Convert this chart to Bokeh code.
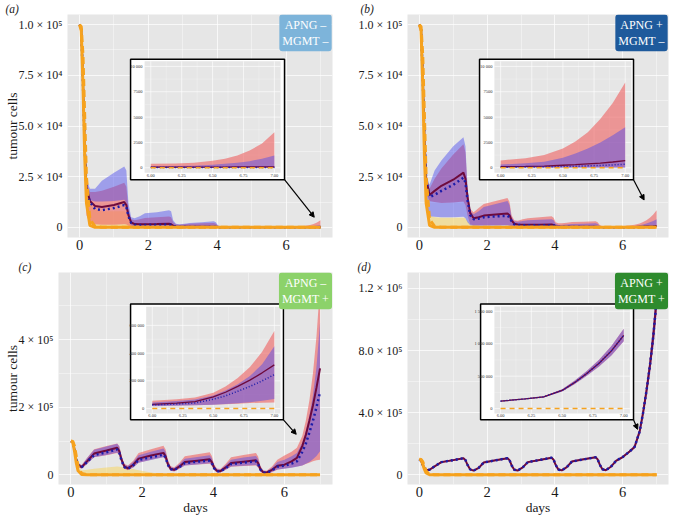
import numpy as np
from bokeh.plotting import figure
from bokeh.layouts import row, column
from bokeh.models import Range1d, FixedTicker, Label, Arrow, NormalHead
from bokeh.core.properties import value
from bokeh.embed import file_html
from bokeh.resources import INLINE

# ---------------- data (values in thousands of tumour cells) ----------------
DAYS = [0.0, 0.05, 0.1, 0.15, 0.2, 0.3, 0.45, 0.65, 1.0, 1.3,
        1.36, 1.42, 1.5, 1.6, 1.75, 1.9, 2.25, 2.6, 2.66, 2.72,
        2.8, 2.9, 3.05, 3.2, 3.55, 3.9, 3.96, 4.02, 4.1, 4.2,
        4.35, 4.5, 4.85, 5.2, 5.26, 5.32, 5.4, 5.5, 5.65, 5.8,
        6.0, 6.2, 6.35, 6.5, 6.6, 6.7, 6.8, 6.9, 7.0]

ORANGE_SOLID_K = [100, 97, 70, 35, 12, 1, 0, 0, 0, 0,
                  0, 0, 0, 0, 0, 0, 0, 0, 0, 0,
                  0, 0, 0, 0, 0, 0, 0, 0, 0, 0,
                  0, 0, 0, 0, 0, 0, 0, 0, 0, 0,
                  0, 0, 0, 0, 0, 0, 0, 0, 0]
ORANGE_DASH_K = [100, 99, 85, 55, 25, 4, 0.5, 0.1, 0, 0,
                 0, 0, 0, 0, 0, 0, 0, 0, 0, 0,
                 0, 0, 0, 0, 0, 0, 0, 0, 0, 0,
                 0, 0, 0, 0, 0, 0, 0, 0, 0, 0,
                 0, 0, 0, 0, 0, 0, 0, 0, 0]
YEL_LO_K = [100, 97, 74, 40, 10, 0, 0, 0, 0, 0,
            0, 0, 0, 0, 0, 0, 0, 0, 0, 0,
            0, 0, 0, 0, 0, 0, 0, 0, 0, 0,
            0, 0, 0, 0, 0, 0, 0, 0, 0, 0,
            0, 0, 0, 0, 0, 0, 0, 0, 0]

# panel (a) APNG - / MGMT -
A_RED_K = [100, 98, 72, 40, 20, 13, 10.5, 10, 11, 12.5,
           11, 6, 2.5, 1.6, 1.5, 1.5, 1.6, 1.8, 1.5, 0.8,
           0.4, 0.3, 0.3, 0.3, 0.3, 0.3, 0.25, 0.15, 0.1, 0.1,
           0.1, 0.1, 0.1, 0.08, 0.08, 0.07, 0.06, 0.06, 0.06, 0.06,
           0.06, 0.06, 0.06, 0.07, 0.07, 0.08, 0.08, 0.09, 0.09]
A_BLUE_K = [100, 98, 71, 39, 19, 12.5, 9, 8.5, 9.5, 11,
            10, 5.5, 2.2, 1.3, 1.2, 1.2, 1.3, 1.4, 1.2, 0.6,
            0.3, 0.2, 0.2, 0.2, 0.2, 0.2, 0.15, 0.1, 0.05, 0.05,
            0.05, 0.05, 0.05, 0.05, 0.05, 0.05, 0.05, 0.05, 0.05, 0.05,
            0.03, 0.03, 0.03, 0.03, 0.03, 0.03, 0.03, 0.03, 0.03]
A_RED_LO_K = [100, 96, 65, 25, 6, 2, 1.5, 1.3, 1.3, 1.5,
              1.4, 0.8, 0.3, 0.2, 0.2, 0.2, 0.2, 0.2, 0.15, 0.1,
              0.05, 0, 0, 0, 0, 0, 0, 0, 0, 0,
              0, 0, 0, 0, 0, 0, 0, 0, 0, 0,
              0, 0, 0, 0, 0, 0, 0, 0, 0]
A_RED_HI_K = [100, 98, 76, 42, 22, 17.5, 17.5, 18, 20, 22,
              20, 9, 4, 3.5, 4, 4.6, 5, 5.4, 5, 2.5,
              1.5, 1.3, 1.5, 1.8, 2, 2.2, 1.8, 0.8, 0.4, 0.35,
              0.35, 0.35, 0.35, 0.35, 0.35, 0.35, 0.35, 0.35, 0.35, 0.38,
              0.4, 0.43, 0.5, 0.7, 0.9, 1.2, 1.7, 2.4, 3.5]
A_BLUE_LO_K = [100, 97, 70, 35, 16, 13.5, 12.8, 12.8, 13, 13.6,
               12, 5, 1, 0.5, 0.4, 0.4, 0.4, 0.5, 0.4, 0.2,
               0.1, 0.05, 0.05, 0.05, 0.05, 0.05, 0.05, 0, 0, 0,
               0, 0, 0, 0, 0, 0, 0, 0, 0, 0,
               0, 0, 0, 0, 0, 0, 0, 0, 0]
A_BLUE_HI_K = [100, 99, 80, 45, 24, 19, 19, 23, 27, 30,
               28, 12, 5, 4.5, 5.5, 7, 7.5, 8.5, 8, 3.5,
               1.8, 1.5, 1.8, 2.2, 2.5, 3, 2.5, 1, 0.4, 0.3,
               0.3, 0.3, 0.3, 0.3, 0.25, 0.2, 0.2, 0.2, 0.2, 0.18,
               0.15, 0.17, 0.2, 0.3, 0.4, 0.5, 0.65, 0.9, 1.2]
A_YEL_HI_K = [100, 99, 82, 48, 16, 11, 9, 8, 8, 8,
              7, 5, 3, 2, 1.5, 1, 0.5, 0.2, 0, 0,
              0, 0, 0, 0, 0, 0, 0, 0, 0, 0,
              0, 0, 0, 0, 0, 0, 0, 0, 0, 0,
              0, 0, 0, 0, 0, 0, 0, 0, 0]

# panel (b) APNG + / MGMT -
B_RED_K = [100, 98, 75, 45, 24, 16, 18, 20.5, 23.5, 27,
           24, 15, 7, 4.5, 5, 5.8, 6.3, 6.8, 6, 3.5,
           1.8, 1.4, 1.3, 1.3, 1.3, 1.4, 1.2, 0.6, 0.3, 0.25,
           0.25, 0.25, 0.25, 0.25, 0.2, 0.15, 0.1, 0.1, 0.1, 0.1,
           0.1, 0.13, 0.17, 0.25, 0.3, 0.38, 0.45, 0.57, 0.7]
B_BLUE_K = [100, 98, 74, 44, 23, 15, 16, 18, 21, 24.5,
            22, 13.5, 6, 4, 4.3, 5, 5.4, 5.7, 5, 3,
            1.5, 1.2, 1.1, 1.1, 1.1, 1.1, 1, 0.5, 0.2, 0.15,
            0.15, 0.15, 0.15, 0.15, 0.12, 0.1, 0.06, 0.05, 0.05, 0.05,
            0.05, 0.07, 0.09, 0.12, 0.15, 0.19, 0.23, 0.28, 0.35]
B_RED_LO_K = [100, 96, 70, 38, 17, 13, 12.5, 12, 12.3, 12.7,
              11, 6, 1.5, 1, 1, 1.1, 1.2, 1.2, 1, 0.5,
              0.2, 0.1, 0.1, 0.1, 0.1, 0.1, 0.1, 0.05, 0.05, 0.05,
              0.05, 0.05, 0.05, 0.05, 0.05, 0.05, 0.05, 0.05, 0.05, 0.05,
              0.05, 0.05, 0.05, 0.05, 0.05, 0.05, 0.05, 0.05, 0.05]
B_RED_HI_K = [100, 98, 78, 46, 25, 19, 24, 29, 36, 41,
              37, 19, 9, 7.5, 9.5, 11.5, 13, 14.5, 12.5, 6,
              3.5, 3.3, 4, 4.5, 5, 5.5, 4.8, 2.5, 2, 2,
              2.3, 2.6, 2.8, 3, 2.5, 1.2, 0.6, 0.6, 0.62, 0.65,
              0.72, 0.95, 1.25, 1.9, 2.6, 3.5, 4.8, 6.4, 8.4]
B_BLUE_LO_K = [100, 96, 68, 30, 10, 5.5, 5.2, 5, 5, 5.2,
               4.5, 2.5, 1, 0.8, 0.8, 0.8, 0.85, 0.9, 0.7, 0.4,
               0.2, 0.1, 0, 0, 0, 0, 0, 0, 0, 0,
               0, 0, 0, 0, 0, 0, 0, 0, 0, 0,
               0, 0, 0, 0, 0, 0, 0, 0, 0]
B_BLUE_HI_K = [100, 99, 80, 48, 26, 21, 28, 33, 40, 44.5,
               40, 20, 8, 6.5, 8, 10, 11.5, 13, 11, 5,
               3, 2.8, 3.2, 3.5, 3.8, 4, 3.5, 1.8, 1.2, 1.2,
               1.4, 1.6, 1.8, 2, 1.6, 0.8, 0.3, 0.25, 0.25, 0.28,
               0.32, 0.45, 0.6, 1, 1.4, 1.9, 2.5, 3.2, 4]
B_YEL_HI_K = [100, 99, 82, 48, 16, 6, 5, 4.8, 4.7, 4.8,
              4.5, 3, 1.5, 1, 0.8, 0.6, 0.4, 0.2, 0, 0,
              0, 0, 0, 0, 0, 0, 0, 0, 0, 0,
              0, 0, 0, 0, 0, 0, 0, 0, 0, 0,
              0, 0, 0, 0, 0, 0, 0, 0, 0]

# panel (c) APNG - / MGMT +
C_RED_K = [100, 98, 75, 45, 30, 23, 40, 63, 72, 80,
           70, 45, 25, 19, 30, 48, 57, 65, 55, 33,
           18, 15, 25, 38, 42, 46, 38, 22, 12, 11,
           22, 35, 39, 43, 35, 18, 8, 7, 15, 27,
           30, 40, 50, 85, 118, 160, 205, 258, 315]
C_BLUE_K = [100, 97, 74, 44, 29, 22, 38, 58, 67, 75,
            66, 42, 23, 18, 28, 44, 52, 60, 51, 30,
            17, 14, 23, 35, 39, 42, 35, 20, 11, 10,
            20, 32, 36, 40, 32, 16, 7, 6, 13, 24,
            27, 33, 40, 68, 92, 125, 160, 200, 245]
C_RED_LO_K = [100, 96, 70, 38, 24, 18, 32, 52, 58, 65,
              57, 36, 18, 14, 22, 36, 45, 53, 45, 25,
              12, 10, 18, 28, 31, 33, 27, 15, 7, 7,
              15, 24, 26, 28, 22, 10, 4, 3, 8, 15,
              19, 22, 25, 28, 32, 36, 40, 43, 45]
C_RED_HI_K = [100, 99, 80, 52, 36, 29, 50, 76, 85, 93,
              85, 58, 33, 28, 42, 65, 76, 86, 75, 46,
              26, 22, 36, 55, 61, 67, 56, 32, 19, 17,
              33, 52, 59, 65, 54, 28, 14, 12, 25, 45,
              57, 68, 80, 115, 160, 220, 300, 410, 560]
C_BLUE_LO_K = [100, 96, 70, 38, 24, 18, 32, 52, 59, 66,
               58, 37, 19, 15, 22, 36, 44, 52, 44, 25,
               13, 11, 19, 28, 31, 34, 28, 15, 8, 7,
               15, 25, 27, 29, 23, 11, 4, 3, 9, 16,
               18, 21, 24, 28, 33, 38, 46, 56, 70]
C_BLUE_HI_K = [100, 98, 79, 50, 35, 28, 49, 74, 84, 92,
               83, 55, 31, 26, 38, 58, 68, 78, 68, 42,
               23, 20, 32, 48, 53, 58, 49, 28, 17, 15,
               29, 45, 51, 56, 47, 25, 12, 10, 21, 38,
               45, 55, 65, 95, 130, 175, 235, 320, 450]
C_YEL_HI_K = [100, 99, 82, 50, 25, 13, 15, 18, 22, 25,
              24, 23, 22, 20, 17, 14, 7, 1, 0.5, 0,
              0, 0, 0, 0, 0, 0, 0, 0, 0, 0,
              0, 0, 0, 0, 0, 0, 0, 0, 0, 0,
              0, 0, 0, 0, 0, 0, 0, 0, 0]

# panel (d) APNG + / MGMT +  (both model means coincide)
D_RED_K = [100, 90, 65, 42, 31, 33, 55, 82, 95, 107,
           95, 65, 35, 27, 45, 80, 94, 107, 95, 62,
           33, 28, 48, 82, 96, 110, 98, 65, 35, 29,
           50, 86, 100, 113, 100, 67, 36, 30, 52, 90,
           115, 150, 180, 280, 400, 540, 700, 890, 1130]
D_BLUE_K = D_RED_K
D_LO_K = [100, 88, 62, 39, 28, 30, 51, 77, 90, 102,
          90, 61, 32, 24, 41, 75, 89, 102, 90, 58,
          30, 25, 44, 77, 91, 105, 93, 61, 32, 26,
          46, 81, 95, 108, 95, 63, 33, 27, 48, 85,
          109, 143, 171, 262, 375, 505, 650, 820, 1040]
D_HI_K = [100, 92, 68, 45, 34, 36, 59, 87, 100, 112,
          100, 69, 38, 30, 49, 85, 99, 112, 100, 66,
          36, 31, 52, 87, 101, 115, 103, 69, 38, 32,
          54, 91, 105, 118, 105, 71, 39, 33, 56, 95,
          121, 157, 189, 300, 428, 578, 755, 965, 1230]
D_YEL_HI_K = [100, 99, 80, 45, 15, 4, 3, 3, 3, 3,
              2.5, 2, 1, 0.5, 0, 0, 0, 0, 0, 0,
              0, 0, 0, 0, 0, 0, 0, 0, 0, 0,
              0, 0, 0, 0, 0, 0, 0, 0, 0, 0,
              0, 0, 0, 0, 0, 0, 0, 0, 0]

# axis ticks
X_TICKS = [0, 2, 4, 6]
AB_Y_TICKS = [0, 25000, 50000, 75000, 100000]
AB_Y_LABELS = ["0", "2.5 × 10⁴", "5.0 × 10⁴", "7.5 × 10⁴", "1.0 × 10⁵"]
C_Y_TICKS = [0, 200000, 400000]
C_Y_LABELS = ["0", "2 × 10⁵", "4 × 10⁵"]
D_Y_TICKS = [0, 400000, 800000, 1200000]
D_Y_LABELS = ["0", "4.0 × 10⁵", "8.0 × 10⁵", "1.2 × 10⁶"]

INSET_X_TICKS = [6.0, 6.25, 6.5, 6.75, 7.0]
INSET_X_LABELS = ["6.00", "6.25", "6.50", "6.75", "7.00"]
AB_INSET_Y_TICKS = [0, 2500, 5000, 7500, 10000]
AB_INSET_Y_LABELS = ["0", "2500", "5000", "7500", "10 000"]
C_INSET_Y_TICKS = [0, 200000, 400000, 600000]
C_INSET_Y_LABELS = ["0", "200 000", "400 000", "600 000"]
D_INSET_Y_TICKS = [0, 500000, 1000000, 1500000]
D_INSET_Y_LABELS = ["0", "500 000", "1 000 000", "1 500 000"]

# ---------------- styles ----------------
BG = "#E6E6E6"
PINK = "#EE6A6A"
BLUE = "#4646F0"
YELLOW = "#F7D358"
MAROON = "#6E0A3C"
NAVY = "#1C1CA8"
ORANGE = "#F6A21E"
SERIF = "Liberation Serif"
K = 1000.0


def k(a):
    return np.asarray(a, dtype=float) * K


def inset_ranges(frac, lims):
    fl, fr, fb, ft = frac
    x0, x1, y0, y1 = lims
    sx = (x1 - x0) / (fr - fl)
    sy = (y1 - y0) / (ft - fb)
    X0 = x0 - fl * sx
    Y0 = y0 - fb * sy
    return X0, sx, Y0, sy


def make_panel(spec):
    ylo, yhi = spec["ylim"]
    p = figure(width=spec["w"], height=spec["h"],
               x_range=Range1d(-0.35, 7.35), y_range=Range1d(ylo, yhi),
               output_backend="svg", toolbar_location=None,
               background_fill_color=BG, border_fill_color="white",
               outline_line_color=None,
               min_border_left=spec["mb"][0], min_border_right=spec["mb"][1],
               min_border_top=spec["mb"][2], min_border_bottom=spec["mb"][3])

    # panel letter as title
    p.title.text = spec["letter"]
    p.title.text_font = SERIF
    p.title.text_font_size = "11.5px"
    p.title.text_font_style = "italic"
    p.title.text_color = "#1a1a1a"
    p.title.align = "left"
    p.title.offset = spec["letdx"]
    p.title.standoff = 0

    # axes
    p.xaxis.ticker = FixedTicker(ticks=X_TICKS, minor_ticks=[1, 3, 5, 7])
    yt = spec["yticks"]
    p.yaxis.ticker = FixedTicker(ticks=yt, minor_ticks=[(a + b) / 2 for a, b in zip(yt[:-1], yt[1:])] + [yt[-1] + (yt[1] - yt[0]) / 2])
    p.yaxis.major_label_overrides = {t: l for t, l in zip(yt, spec["ylabels"])}
    for ax in (p.xaxis[0], p.yaxis[0]):
        ax.axis_line_color = None
        ax.major_tick_line_color = None
        ax.minor_tick_line_color = None
        ax.major_tick_out = 0
        ax.major_tick_in = 0
        ax.minor_tick_out = 0
        ax.minor_tick_in = 0
        ax.major_label_text_font = SERIF
        ax.major_label_text_color = "#1a1a1a"
        ax.major_label_text_line_height = 1.0
        ax.axis_label_text_font = SERIF
        ax.axis_label_text_font_size = "13.5px"
        ax.axis_label_text_font_style = "normal"
        ax.axis_label_text_color = "#1a1a1a"
        ax.axis_label_text_line_height = 1.0
        ax.axis_label_standoff = 0
    p.xaxis.major_label_text_font_size = "14.5px"
    p.xaxis.major_label_standoff = 2
    p.yaxis.major_label_text_font_size = "12px"
    p.yaxis.major_label_standoff = 5
    if spec.get("ylab"):
        p.yaxis.axis_label = "tumour cells"
        p.yaxis.axis_label_standoff = -4
    if spec.get("xlab"):
        p.xaxis.axis_label = "days"
    p.grid.grid_line_color = "white"
    p.grid.grid_line_alpha = 0.7
    p.grid.minor_grid_line_color = "white"
    p.grid.minor_grid_line_alpha = 0.4

    d = spec["data"]
    x = DAYS
    # main ribbons
    p.varea(x=x, y1=k(YEL_LO_K), y2=k(d["yel_hi"]), fill_color=YELLOW, fill_alpha=0.5)
    p.varea(x=x, y1=k(d["red_lo"]), y2=k(d["red_hi"]), fill_color=PINK, fill_alpha=0.65)
    p.varea(x=x, y1=k(d["blue_lo"]), y2=k(d["blue_hi"]), fill_color=BLUE, fill_alpha=0.45)
    # main lines
    p.line(x, k(d["red"]), line_color=MAROON, line_width=2)
    p.line(x, k(d["blue"]), line_color=NAVY, line_width=2.5, line_dash="2 3")
    p.line(x, k(ORANGE_SOLID_K), line_color=ORANGE, line_width=3)
    p.line(x, k(ORANGE_DASH_K), line_color=ORANGE, line_width=3, line_dash="7 4")

    # ---------- inset via extra ranges ----------
    X0, sx, Y0, sy = inset_ranges(spec["ipanel"], spec["ilims"])
    p.extra_x_ranges = {"ix": Range1d(X0, X0 + sx)}
    p.extra_y_ranges = {"iy": Range1d(Y0, Y0 + sy)}
    kw = dict(x_range_name="ix", y_range_name="iy")
    bl, br, bb, bt = spec["ibox"]
    p.quad(left=X0 + bl * sx, right=X0 + br * sx, bottom=Y0 + bb * sy, top=Y0 + bt * sy,
           fill_color="white", line_color="black", line_width=1.5, **kw)
    ix0, ix1, iy0, iy1 = spec["ilims"]
    p.quad(left=ix0, right=ix1, bottom=iy0, top=iy1, fill_color=BG, line_color=None, **kw)
    iyt = spec["iyticks"]
    xminor = [(a + b) / 2 for a, b in zip(INSET_X_TICKS[:-1], INSET_X_TICKS[1:])]
    yminor = [(a + b) / 2 for a, b in zip(iyt[:-1], iyt[1:])]
    p.segment(x0=INSET_X_TICKS, x1=INSET_X_TICKS, y0=iy0, y1=iy1, line_color="white", line_width=0.8, line_alpha=0.8, **kw)
    p.segment(x0=xminor, x1=xminor, y0=iy0, y1=iy1, line_color="white", line_width=0.5, line_alpha=0.5, **kw)
    p.segment(x0=ix0, x1=ix1, y0=iyt, y1=iyt, line_color="white", line_width=0.8, line_alpha=0.8, **kw)
    p.segment(x0=ix0, x1=ix1, y0=yminor, y1=yminor, line_color="white", line_width=0.5, line_alpha=0.5, **kw)

    i6 = DAYS.index(6.0)
    xs = DAYS[i6:]
    p.varea(x=xs, y1=k(d["red_lo"])[i6:], y2=k(d["red_hi"])[i6:], fill_color=PINK, fill_alpha=0.65, **kw)
    p.varea(x=xs, y1=k(d["blue_lo"])[i6:], y2=k(d["blue_hi"])[i6:], fill_color=BLUE, fill_alpha=0.45, **kw)
    p.line(xs, k(d["red"])[i6:], line_color=MAROON, line_width=1.3, **kw)
    p.line(xs, k(d["blue"])[i6:], line_color=NAVY, line_width=1.5, line_dash="1 2", **kw)
    p.line(xs, k(ORANGE_DASH_K)[i6:], line_color=ORANGE, line_width=1.5, line_dash="5 4", **kw)

    p.text(x=INSET_X_TICKS, y=[iy0] * len(INSET_X_TICKS), text=INSET_X_LABELS,
           text_font=value(SERIF), text_font_size="4.5px", text_color="#333",
           text_align="center", text_baseline="top", y_offset=1, **kw)
    p.text(x=[ix0] * len(iyt), y=iyt, text=spec["iylabels"],
           text_font=value(SERIF), text_font_size="4.5px", text_color="#333",
           text_align="right", text_baseline="middle", x_offset=-2, **kw)

    # arrow from inset corner to the curve
    mx0, mx1 = -0.35, 7.35
    ax_s = mx0 + br * (mx1 - mx0)
    ay_s = ylo + bb * (yhi - ylo)
    p.add_layout(Arrow(end=NormalHead(size=5, fill_color="black", line_color="black", line_width=1),
                       x_start=ax_s, y_start=ay_s, x_end=spec["arrow"][0], y_end=spec["arrow"][1],
                       line_color="black", line_width=1.2))

    # genotype tag
    p.add_layout(Label(x=7.35, y=yhi, x_offset=spec["tagdx"], y_offset=0, text=spec["tag"],
                       text_align="center", text_baseline="top", text_color="white",
                       text_font=SERIF, text_font_size="12px",
                       background_fill_color=spec["tagcolor"], padding=3, border_radius=3))
    return p


AB_ILIMS = (5.95, 7.05, -500, 10500)
specs = [
    dict(w=337, h=258, mb=(67, 5, 13, 21), ylim=(-5000, 105000),
         yticks=AB_Y_TICKS, ylabels=AB_Y_LABELS, ylab=True, xlab=False,
         data=dict(red=A_RED_K, blue=A_BLUE_K, red_lo=A_RED_LO_K, red_hi=A_RED_HI_K,
                   blue_lo=A_BLUE_LO_K, blue_hi=A_BLUE_HI_K, yel_hi=A_YEL_HI_K),
         ipanel=(0.291, 0.804, 0.290, 0.790), ibox=(0.238, 0.819, 0.259, 0.799),
         ilims=AB_ILIMS, iyticks=AB_INSET_Y_TICKS, iylabels=AB_INSET_Y_LABELS,
         arrow=(6.82, 5000), tag="APNG –\nMGMT –", tagcolor="#7DB4DA", tagdx=-27,
         letter="(a)", letdx=-62),
    dict(w=337, h=258, mb=(70, 6, 13, 21), ylim=(-5000, 105000),
         yticks=AB_Y_TICKS, ylabels=AB_Y_LABELS, ylab=False, xlab=False,
         data=dict(red=B_RED_K, blue=B_BLUE_K, red_lo=B_RED_LO_K, red_hi=B_RED_HI_K,
                   blue_lo=B_BLUE_LO_K, blue_hi=B_BLUE_HI_K, yel_hi=B_YEL_HI_K),
         ipanel=(0.333, 0.858, 0.290, 0.790), ibox=(0.276, 0.866, 0.259, 0.799),
         ilims=AB_ILIMS, iyticks=AB_INSET_Y_TICKS, iylabels=AB_INSET_Y_LABELS,
         arrow=(6.63, 13500), tag="APNG +\nMGMT –", tagcolor="#1E5A9C", tagdx=-27,
         letter="(b)", letdx=-47),
    dict(w=337, h=259, mb=(58, 5, 12, 25), ylim=(-28500, 598500),
         yticks=C_Y_TICKS, ylabels=C_Y_LABELS, ylab=True, xlab=True,
         data=dict(red=C_RED_K, blue=C_BLUE_K, red_lo=C_RED_LO_K, red_hi=C_RED_HI_K,
                   blue_lo=C_BLUE_LO_K, blue_hi=C_BLUE_HI_K, yel_hi=C_YEL_HI_K),
         ipanel=(0.320, 0.810, 0.335, 0.839), ibox=(0.263, 0.821, 0.305, 0.852),
         ilims=(5.95, 7.05, -35000, 735000), iyticks=C_INSET_Y_TICKS, iylabels=C_INSET_Y_LABELS,
         arrow=(6.33, 120000), tag="APNG –\nMGMT +", tagcolor="#8CD26A", tagdx=-27,
         letter="(c)", letdx=-40),
    dict(w=337, h=259, mb=(70, 6, 12, 25), ylim=(-62000, 1303000),
         yticks=D_Y_TICKS, ylabels=D_Y_LABELS, ylab=False, xlab=True,
         data=dict(red=D_RED_K, blue=D_BLUE_K, red_lo=D_LO_K, red_hi=D_HI_K,
                   blue_lo=D_LO_K, blue_hi=D_HI_K, yel_hi=D_YEL_HI_K),
         ipanel=(0.333, 0.852, 0.335, 0.840), ibox=(0.280, 0.866, 0.305, 0.852),
         ilims=(5.95, 7.05, -75000, 1575000), iyticks=D_INSET_Y_TICKS, iylabels=D_INSET_Y_LABELS,
         arrow=(6.44, 293000), tag="APNG +\nMGMT +", tagcolor="#2E8B2E", tagdx=-27,
         letter="(d)", letdx=-50),
]

panels = [make_panel(s) for s in specs]
layout = column(row(panels[0], panels[1]), row(panels[2], panels[3]))

with open("out.html", "w") as f:
    f.write(file_html(layout, INLINE))
